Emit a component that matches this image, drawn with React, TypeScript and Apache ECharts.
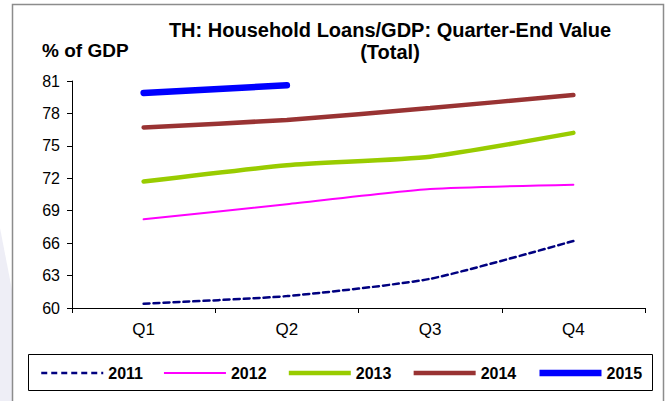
import React, { useEffect, useRef } from "react";
import * as echarts from "echarts";

const categories = ["Q1", "Q2", "Q3", "Q4"];
const years = ["2011", "2012", "2013", "2014", "2015"];
const s2011 = [60.4, 61.1, 62.7, 66.2];
const s2012 = [68.2, 69.6, 71.0, 71.4];
const s2013 = [71.7, 73.2, 74.0, 76.2];
const s2014 = [76.7, 77.4, 78.5, 79.7];
const s2015 = [79.9, 80.6];
const yTicks = { min: 60, max: 81, interval: 3 };

const FONT = "'Liberation Sans', Arial, sans-serif";

export default function App() {
  const ref = useRef<HTMLDivElement>(null);
  useEffect(() => {
    const chart = echarts.init(ref.current!, null, { renderer: "svg" });
    const styles: Record<string, any> = {
      "2011": { color: "#000080", width: 2.5, type: [6, 4] },
      "2012": { color: "#ff00ff", width: 2, type: "solid" },
      "2013": { color: "#99cc00", width: 4.5, type: "solid" },
      "2014": { color: "#993333", width: 4.5, type: "solid" },
      "2015": { color: "#0000ff", width: 6.5, type: "solid" },
    };
    const mk = (name: string, data: number[], z = 2) => ({
      name,
      type: "line",
      data,
      symbol: "none",
      smooth: 0.2,
      z,
      lineStyle: { color: styles[name].color, width: styles[name].width, type: styles[name].type, cap: "round" },
      itemStyle: { color: styles[name].color },
    });
    chart.setOption({
      animation: false,
      backgroundColor: "#ffffff",
      textStyle: { fontFamily: FONT },
      title: {
        text: "TH: Household Loans/GDP: Quarter-End Value\n(Total)",
        left: 385,
        top: 14,
        textAlign: "center",
        textStyle: { fontFamily: FONT, fontSize: 20, fontWeight: "bold", color: "#000", lineHeight: 22 },
      },
      graphic: [
        { type: "polygon", shape: { points: [[0, 228], [12, 290], [12, 401], [0, 401]] }, style: { fill: "#eeeef6" }, silent: true },
        { type: "polyline", shape: { points: [[12.5, 401], [12.5, 4.5], [663.5, 4.5], [663.5, 401]] }, style: { stroke: "#8c8c8c", lineWidth: 1.5, fill: null }, silent: true },
        { type: "rect", shape: { x: 28.5, y: 354.5, width: 624, height: 36 }, style: { stroke: "#000", lineWidth: 1, fill: "#fff" }, z: 0, silent: true },
        { type: "text", x: 42, y: 50, style: { text: "% of GDP", fontFamily: FONT, fontSize: 19, fontWeight: "bold", fill: "#000", verticalAlign: "middle" }, silent: true },
      ],
      legend: {
        data: years.map((y) => ({ name: y, lineStyle: { width: styles[y].width, type: styles[y].type, color: styles[y].color, cap: "butt" } })),
        left: 35,
        top: 360,
        itemWidth: 62,
        itemHeight: 14,
        itemGap: 20,
        itemStyle: { opacity: 0 },
        textStyle: { fontFamily: FONT, fontSize: 16, fontWeight: "bold", color: "#000" },
        z: 5,
      },
      grid: { left: 72, right: 25, top: 81, bottom: 93, containLabel: false },
      xAxis: {
        type: "category",
        data: categories,
        boundaryGap: true,
        axisLine: { lineStyle: { color: "#000", width: 1 } },
        axisTick: { show: true, length: 5, lineStyle: { color: "#000" } },
        axisLabel: { fontFamily: FONT, fontSize: 17, color: "#000", margin: 13 },
      },
      yAxis: {
        type: "value",
        min: yTicks.min,
        max: yTicks.max,
        interval: yTicks.interval,
        axisLine: { show: true, lineStyle: { color: "#000", width: 1 } },
        axisTick: { show: true, length: 5, lineStyle: { color: "#000" } },
        splitLine: { show: false },
        axisLabel: { fontFamily: FONT, fontSize: 16, color: "#000", margin: 12 },
      },
      series: [
        mk("2011", s2011),
        mk("2012", s2012),
        mk("2013", s2013),
        mk("2014", s2014),
        mk("2015", s2015, 3),
      ],
    });
    return () => chart.dispose();
  }, []);
  return <div ref={ref} style={{ position: "fixed", left: 0, top: 0, width: 670, height: 401 }} />;
}
